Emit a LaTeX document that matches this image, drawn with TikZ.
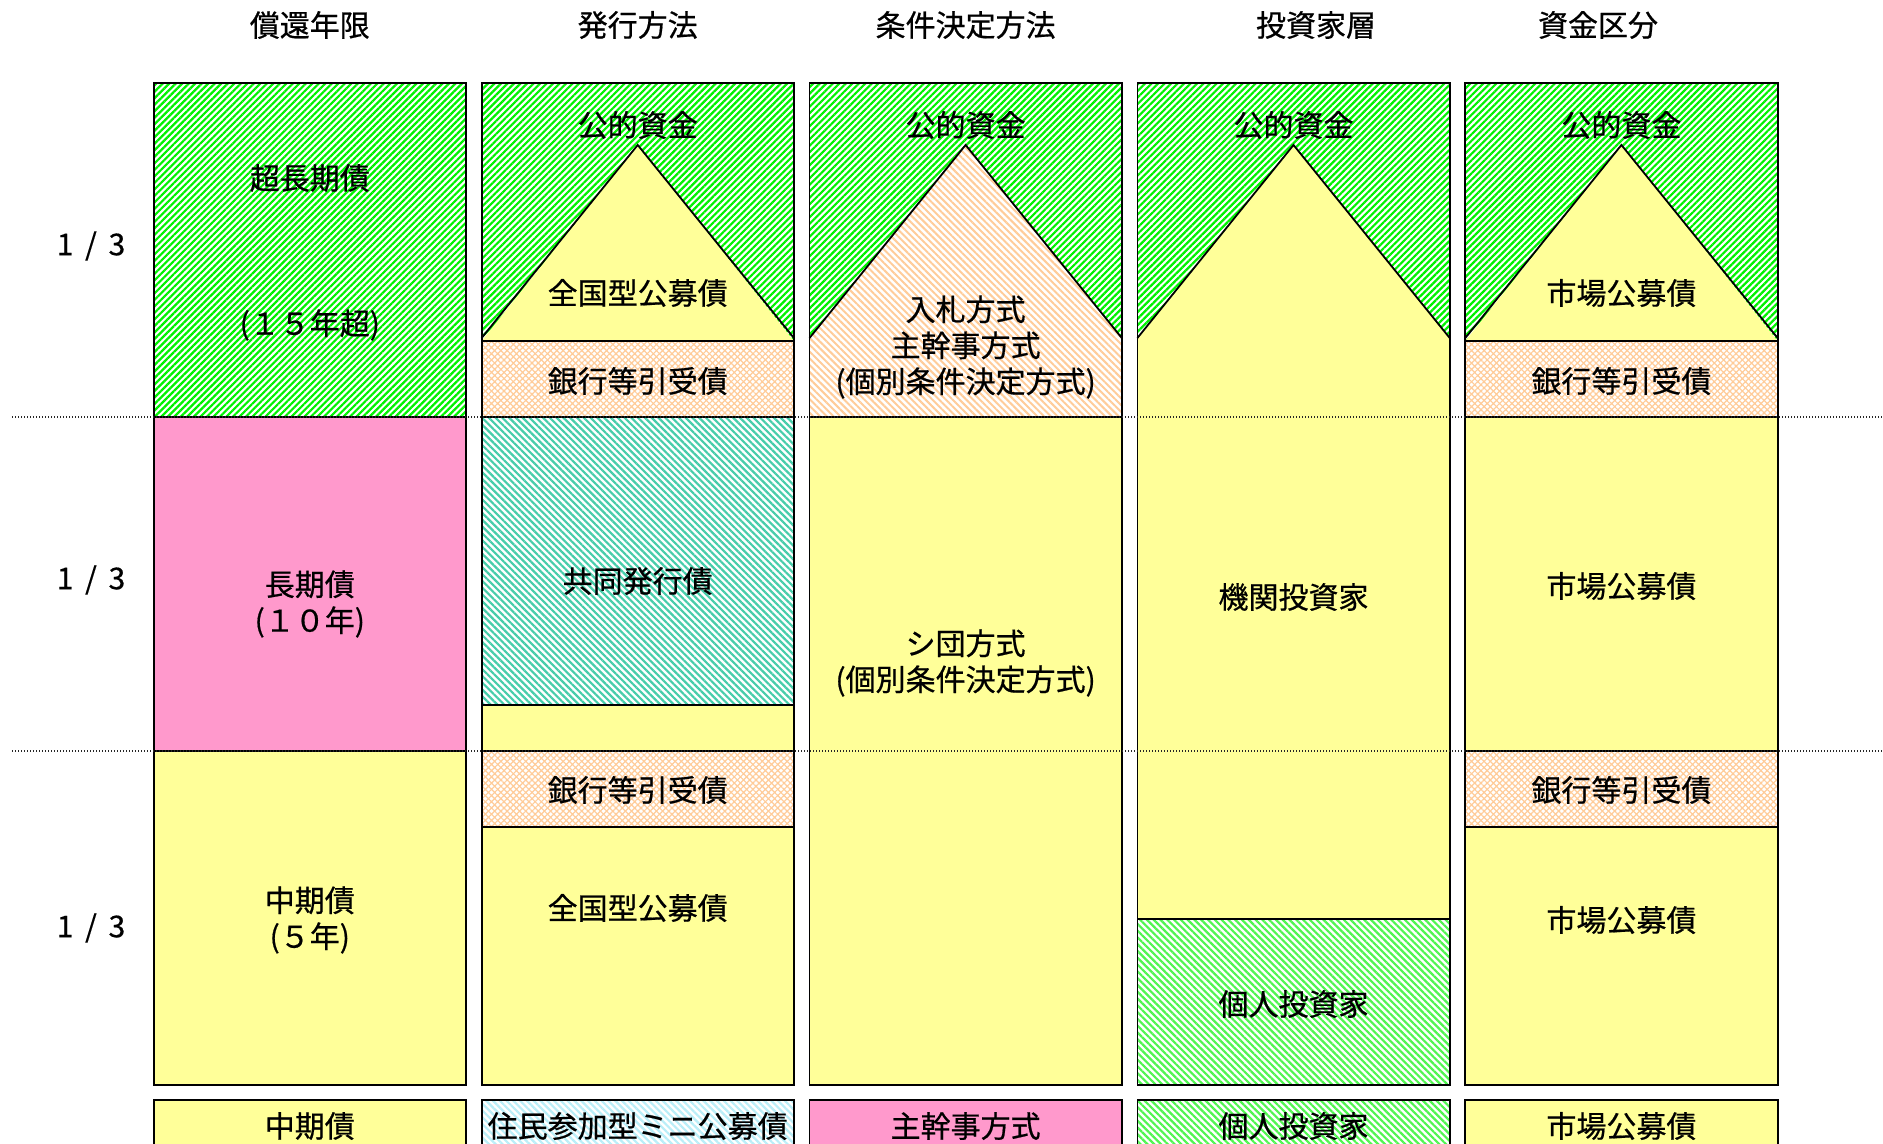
\documentclass[tikz,border=0pt]{standalone}
\usepackage{fontspec}
\setmainfont{Noto Sans CJK JP}[FakeBold=0.6]
\usetikzlibrary{patterns.meta}
\definecolor{hgreen}{RGB}{0,242,0}
\definecolor{cyel}{RGB}{255,255,153}
\definecolor{cpink}{RGB}{255,153,204}
\definecolor{cpeach}{RGB}{255,204,153}
\definecolor{cteal}{RGB}{70,205,170}
\definecolor{lgreen}{RGB}{80,245,80}
\definecolor{lcyan}{RGB}{185,238,248}
\tikzset{
  greenhatch/.style={preaction={fill=white}, pattern={Lines[angle=45,distance=2.3pt,line width=1.1pt]}, pattern color=hgreen},
  peachmesh/.style={preaction={fill=white}, pattern={Hatch[angle=45,distance=2.2pt,line width=0.6pt]}, pattern color=cpeach},
  tealhatch/.style={preaction={fill=white}, pattern={Lines[angle=-45,distance=2.4pt,line width=1.1pt]}, pattern color=cteal},
  peachlines/.style={preaction={fill=white}, pattern={Lines[angle=-45,distance=2.4pt,line width=1pt]}, pattern color=cpeach},
  greenlines/.style={preaction={fill=white}, pattern={Lines[angle=-45,distance=2.4pt,line width=1.1pt]}, pattern color=lgreen},
  cyanlines/.style={preaction={fill=white}, pattern={Lines[angle=-45,distance=2.4pt,line width=1.1pt]}, pattern color=lcyan},
  yel/.style={fill=cyel},
  pnk/.style={fill=cpink},
  border/.style={draw=black, line width=0.9pt},
  lbl/.style={font=\fontsize{15}{18}\selectfont, align=center, inner sep=0pt},
  fraclbl/.style={font=\fontsize{15}{18}\selectfont, inner sep=0pt},
  guide/.style={line width=0.6pt, dash pattern=on 0.6pt off 0.9pt, black!85}
}
\begin{document}
\begin{tikzpicture}[x=0.5pt,y=-0.5pt]
\useasboundingbox (0,0) rectangle (1883,1144);
\clip (0,0) rectangle (1883,1144);
\fill[white] (0,0) rectangle (1883,1144);

% ---------- Column 1 ----------
\path[greenhatch] (153.7,83) rectangle (466,417);
\path[pnk] (153.7,417) rectangle (466,751);
\path[yel] (153.7,751) rectangle (466,1085);
\draw[border] (153.7,417) -- (466,417) (153.7,751) -- (466,751);
\draw[border] (153.7,83) rectangle (466,1085);

% ---------- Column 2 ----------
\path[greenhatch] (481.6,83) rectangle (793.9,341);
\path[yel] (481.6,341) -- (637.7,145) -- (793.9,341) -- cycle;
\path[peachmesh] (481.6,341) rectangle (793.9,417);
\path[tealhatch] (481.6,417) rectangle (793.9,705);
\path[yel] (481.6,705) rectangle (793.9,751);
\path[peachmesh] (481.6,751) rectangle (793.9,827);
\path[yel] (481.6,827) rectangle (793.9,1085);
\draw[border] (481.6,338) -- (637.7,145) -- (793.9,338);
\draw[border] (481.6,341) -- (793.9,341) (481.6,417) -- (793.9,417)
  (481.6,705) -- (793.9,705) (481.6,751) -- (793.9,751) (481.6,827) -- (793.9,827);
\draw[border] (481.6,83) rectangle (793.9,1085);

% ---------- Column 3 ----------
\path[greenhatch] (809.5,83) rectangle (1121.8,338);
\path[peachlines] (809.5,417) -- (809.5,338) -- (965.6,145) -- (1121.8,338) -- (1121.8,417) -- cycle;
\path[yel] (809.5,417) rectangle (1121.8,1085);
\draw[border] (809.5,338) -- (965.6,145) -- (1121.8,338);
\draw[border] (809.5,417) -- (1121.8,417);
\draw[border] (809.5,83) rectangle (1121.8,1085);

% ---------- Column 4 ----------
\path[greenhatch] (1137.4,83) rectangle (1449.7,338);
\path[yel] (1137.4,919) -- (1137.4,338) -- (1293.5,145) -- (1449.7,338) -- (1449.7,919) -- cycle;
\path[greenlines] (1137.4,919) rectangle (1449.7,1085);
\draw[border] (1137.4,338) -- (1293.5,145) -- (1449.7,338);
\draw[border] (1137.4,919) -- (1449.7,919);
\draw[border] (1137.4,83) rectangle (1449.7,1085);

% ---------- Column 5 ----------
\path[greenhatch] (1465.3,83) rectangle (1777.6,341);
\path[yel] (1465.3,341) -- (1621.4,145) -- (1777.6,341) -- cycle;
\path[peachmesh] (1465.3,341) rectangle (1777.6,417);
\path[yel] (1465.3,417) rectangle (1777.6,751);
\path[peachmesh] (1465.3,751) rectangle (1777.6,827);
\path[yel] (1465.3,827) rectangle (1777.6,1085);
\draw[border] (1465.3,338) -- (1621.4,145) -- (1777.6,338);
\draw[border] (1465.3,341) -- (1777.6,341) (1465.3,417) -- (1777.6,417)
  (1465.3,751) -- (1777.6,751) (1465.3,827) -- (1777.6,827);
\draw[border] (1465.3,83) rectangle (1777.6,1085);

% ---------- Bottom row ----------
\path[yel] (153.7,1100) rectangle (466,1170);
\path[cyanlines] (481.6,1100) rectangle (793.9,1170);
\path[pnk] (809.5,1100) rectangle (1121.8,1170);
\path[greenlines] (1137.4,1100) rectangle (1449.7,1170);
\path[yel] (1465.3,1100) rectangle (1777.6,1170);
\draw[border] (153.7,1170) |- (466,1100) -- (466,1170);
\draw[border] (481.6,1170) |- (793.9,1100) -- (793.9,1170);
\draw[border] (809.5,1170) |- (1121.8,1100) -- (1121.8,1170);
\draw[border] (1137.4,1170) |- (1449.7,1100) -- (1449.7,1170);
\draw[border] (1465.3,1170) |- (1777.6,1100) -- (1777.6,1170);

% ---------- Dotted guide lines ----------
\draw[guide] (12,417) -- (1883,417);
\draw[guide] (12,751) -- (1883,751);

% ---------- Headers ----------
\node[lbl] (h1) at (309.8,25) {償還年限};
\node[lbl] (h2) at (637.7,25) {発行方法};
\node[lbl] (h3) at (965.6,25) {条件決定方法};
\node[lbl] (h4) at (1316,25) {投資家層};
\node[lbl] (h5) at (1598,25) {資金区分};

% ---------- Fractions ----------
\node[fraclbl] (f1) at (91,246) {1 \,/\, 3};
\node[fraclbl] (f2) at (91,580) {1 \,/\, 3};
\node[fraclbl] (f3) at (91,928) {1 \,/\, 3};

% ---------- Column 1 texts ----------
\node[lbl] (c1a) at (309.8,178) {超長期債};
\node[lbl] (c1b) at (309.8,325) {(１５年超)};
\node[lbl] (c1c) at (309.8,604) {長期債\\(１０年)};
\node[lbl] (c1d) at (309.8,920) {中期債\\(５年)};

% ---------- Column 2 texts ----------
\node[lbl] (c2a) at (637.7,125) {公的資金};
\node[lbl] (c2b) at (637.7,293) {全国型公募債};
\node[lbl] (c2c) at (637.7,381) {銀行等引受債};
\node[lbl] (c2d) at (637.7,581) {共同発行債};
\node[lbl] (c2e) at (637.7,790) {銀行等引受債};
\node[lbl] (c2f) at (637.7,908) {全国型公募債};

% ---------- Column 3 texts ----------
\node[lbl] (c3a) at (965.6,125) {公的資金};
\node[lbl] (c3b) at (965.6,347) {入札方式\\主幹事方式\\(個別条件決定方式)};
\node[lbl] (c3c) at (965.6,663) {シ団方式\\(個別条件決定方式)};

% ---------- Column 4 texts ----------
\node[lbl] (c4a) at (1293.5,125) {公的資金};
\node[lbl] (c4b) at (1293.5,597) {機関投資家};
\node[lbl] (c4c) at (1293.5,1004) {個人投資家};

% ---------- Column 5 texts ----------
\node[lbl] (c5a) at (1621.4,125) {公的資金};
\node[lbl] (c5b) at (1621.4,293) {市場公募債};
\node[lbl] (c5c) at (1621.4,381) {銀行等引受債};
\node[lbl] (c5d) at (1621.4,586) {市場公募債};
\node[lbl] (c5e) at (1621.4,790) {銀行等引受債};
\node[lbl] (c5f) at (1621.4,920) {市場公募債};

% ---------- Bottom row texts ----------
\node[lbl] (b1) at (309.8,1126) {中期債};
\node[lbl] (b2) at (637.7,1126) {住民参加型ミニ公募債};
\node[lbl] (b3) at (965.6,1126) {主幹事方式};
\node[lbl] (b4) at (1293.5,1126) {個人投資家};
\node[lbl] (b5) at (1621.4,1126) {市場公募債};
\end{tikzpicture}
\end{document}
